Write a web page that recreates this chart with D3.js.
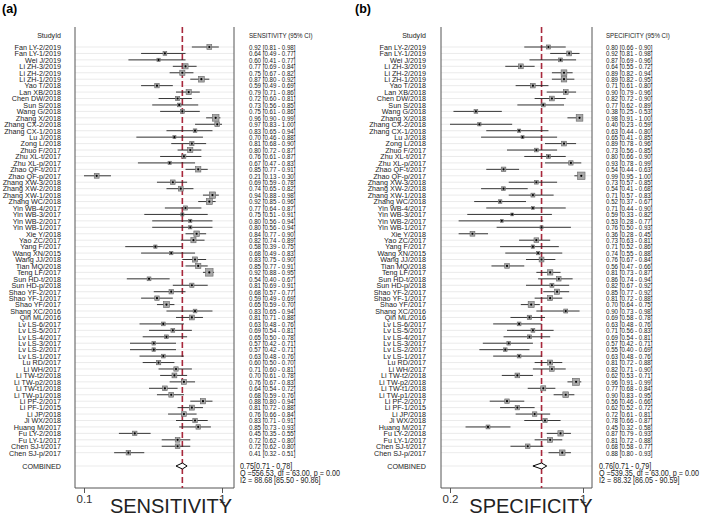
<!DOCTYPE html>
<html><head><meta charset="utf-8">
<script src="https://cdn.jsdelivr.net/npm/d3@7"></script>
<style>
body{margin:0;background:#fff;}
text{font-family:"Liberation Sans",Arial,sans-serif;fill:#222;}
</style></head>
<body><svg id="c" width="709" height="519"></svg>
<script>
const studies = ["Fan LY-2/2019","Fan LY-1/2019","Wei J/2019","Li ZH-3/2019","Li ZH-2/2019","Li ZH-1/2019","Yao T/2018","Lan XB/2018","Chen DW/2018","Sun S/2018","Wang G/2018","Zhang X/2018","Zhang CX-2/2018","Zhang CX-1/2018","Lu J/2018","Zong L/2018","Zhuo F/2017","Zhu XL-t/2017","Zhu XL-p/2017","Zhao QF-t/2017","Zhao QF-p/2017","Zhang XW-3/2018","Zhang XW-2/2018","Zhang XW-1/2018","Zhang WC/2018","Yin WB-4/2017","Yin WB-3/2017","Yin WB-2/2017","Yin WB-1/2017","Xie Y/2018","Yao ZC/2017","Yang F/2017","Wang XN/2015","Wang JJ/2018","Tian MQ/2018","Teng LF/2017","Sun HD-t/2018","Sun HD-p/2018","Shao YF-2/2017","Shao YF-1/2017","Shao YF/2017","Shang XC/2016","Qin ML/2016","Lv LS-6/2017","Lv LS-5/2017","Lv LS-4/2017","Lv LS-3/2017","Lv LS-2/2017","Lv LS-1/2017","Lu RD/2017","Li WH/2017","Li TW-t2/2018","Li TW-p2/2018","Li TW-t1/2018","Li TW-p1/2018","Li PF-2/2017","Li PF-1/2015","Li JP/2018","Ji WX/2018","Huang M/2017","Fu LY-2/2018","Fu LY-1/2017","Chen SJ-t/2017","Chen SJ-p/2017"];

const sensEst = [0.92,0.64,0.60,0.77,0.75,0.87,0.59,0.79,0.72,0.73,0.75,0.96,0.97,0.83,0.70,0.81,0.80,0.76,0.67,0.85,0.21,0.69,0.74,0.94,0.92,0.77,0.75,0.80,0.80,0.84,0.82,0.58,0.68,0.83,0.85,0.92,0.54,0.81,0.68,0.59,0.65,0.83,0.81,0.63,0.69,0.65,0.57,0.57,0.63,0.60,0.71,0.70,0.76,0.64,0.68,0.88,0.81,0.76,0.83,0.85,0.45,0.72,0.72,0.41];
const sensLo = [0.81,0.49,0.41,0.69,0.67,0.80,0.49,0.71,0.60,0.56,0.61,0.90,0.83,0.65,0.46,0.68,0.72,0.61,0.47,0.77,0.13,0.59,0.65,0.88,0.85,0.64,0.51,0.56,0.56,0.77,0.74,0.39,0.49,0.75,0.77,0.88,0.40,0.69,0.57,0.49,0.59,0.65,0.71,0.48,0.54,0.50,0.42,0.42,0.48,0.50,0.60,0.61,0.67,0.54,0.59,0.80,0.72,0.66,0.71,0.73,0.35,0.62,0.62,0.32];
const sensHi = [0.98,0.77,0.77,0.84,0.82,0.92,0.69,0.86,0.81,0.85,0.86,0.99,1.00,0.94,0.88,0.90,0.87,0.87,0.83,0.91,0.30,0.78,0.82,0.98,0.96,0.87,0.91,0.94,0.94,0.90,0.89,0.75,0.83,0.90,0.91,0.95,0.67,0.91,0.77,0.69,0.70,0.94,0.88,0.76,0.81,0.78,0.71,0.71,0.76,0.70,0.81,0.78,0.83,0.72,0.76,0.94,0.88,0.84,0.91,0.93,0.55,0.80,0.80,0.51];

const specEst = [0.80,0.92,0.87,0.64,0.89,0.89,0.71,0.90,0.82,0.77,0.38,0.98,0.40,0.63,0.65,0.89,0.73,0.80,0.93,0.54,0.99,0.73,0.54,0.71,0.52,0.71,0.59,0.53,0.76,0.36,0.73,0.71,0.74,0.76,0.56,0.81,0.86,0.82,0.85,0.81,0.70,0.90,0.69,0.63,0.71,0.69,0.57,0.55,0.63,0.81,0.82,0.62,0.96,0.77,0.90,0.56,0.62,0.72,0.78,0.45,0.87,0.81,0.68,0.88];
const specLo = [0.66,0.81,0.69,0.55,0.82,0.82,0.61,0.79,0.72,0.62,0.25,0.91,0.23,0.44,0.41,0.78,0.56,0.66,0.78,0.44,0.95,0.57,0.41,0.57,0.37,0.44,0.33,0.28,0.50,0.28,0.63,0.52,0.55,0.67,0.47,0.73,0.74,0.67,0.77,0.72,0.64,0.73,0.58,0.48,0.56,0.54,0.42,0.40,0.48,0.72,0.71,0.53,0.91,0.68,0.83,0.46,0.52,0.61,0.66,0.32,0.79,0.72,0.58,0.80];
const specHi = [0.90,0.98,0.96,0.72,0.94,0.95,0.80,0.96,0.90,0.89,0.53,1.00,0.59,0.80,0.85,0.96,0.85,0.90,0.99,0.63,1.00,0.85,0.68,0.83,0.67,0.90,0.82,0.77,0.93,0.45,0.81,0.86,0.88,0.84,0.66,0.87,0.94,0.92,0.92,0.88,0.75,0.98,0.78,0.76,0.83,0.81,0.71,0.69,0.76,0.88,0.90,0.71,0.99,0.84,0.95,0.66,0.72,0.81,0.87,0.58,0.93,0.88,0.77,0.93];

const sensPooled = {est:0.75, lo:0.71, hi:0.78, q:"Q =556.53, df = 63.00, p =  0.00", i2:"I2 = 88.68 [85.50 - 90.86]"};
const specPooled = {est:0.76, lo:0.71, hi:0.79, q:"Q =539.35, df = 63.00, p =  0.00", i2:"I2 = 88.32 [86.05 - 90.59]"};

const sensTicks = [0.13, 1];
const sensTickLabels = ["0.1", "1"];
const specTicks = [0.23, 1];
const specTickLabels = ["0.2", "1"];

const svg = d3.select("#c");
const f2 = d3.format(".2f");
const rowY = d3.scalePoint().domain(studies).range([47, 452.7]);
const combinedY = 466;
const plotTop = 27, plotBottom = 488;
const sizeScale = d3.scaleSqrt().domain([2, 14]).range([2.8, 7.5]).clamp(true);

function panel(cfg) {
  const g = svg.append("g");
  const x = d3.scaleLinear().domain([cfg.ticks[0], 1]).range([cfg.plotL + 9, cfg.plotR - cfg.padR]);
  g.append("text").attr("x", cfg.letterX).attr("y", 13).attr("font-size", 12.5).attr("font-weight", "bold").style("fill","#000").text(cfg.letter);
  g.append("g").attr("transform", `translate(${cfg.nameX},35) scale(0.88,1)`)
    .append("text").attr("text-anchor","end").attr("dy","0.35em").attr("font-size",8).text("StudyId");
  g.append("g").attr("transform", `translate(${cfg.valX},35) scale(0.77,1)`)
    .append("text").attr("dy","0.35em").attr("font-size",8).text(cfg.header);
  g.selectAll("line.grid").data(studies.concat(["__c"])).join("line")
    .attr("x1", cfg.plotL).attr("x2", cfg.plotR)
    .attr("y1", d => d === "__c" ? combinedY : rowY(d))
    .attr("y2", d => d === "__c" ? combinedY : rowY(d))
    .attr("stroke", "#e6e6e6").attr("stroke-width", 0.8);
  g.append("line").attr("x1", cfg.plotL).attr("x2", cfg.plotL).attr("y1", plotTop).attr("y2", plotBottom).attr("stroke", "#555").attr("stroke-width", 1);
  g.append("line").attr("x1", cfg.plotR).attr("x2", cfg.plotR).attr("y1", plotTop).attr("y2", plotBottom).attr("stroke", "#555").attr("stroke-width", 1);
  g.append("line").attr("x1", cfg.plotL).attr("x2", cfg.plotR).attr("y1", plotBottom).attr("y2", plotBottom).attr("stroke", "#555").attr("stroke-width", 1);
  const ax = g.append("g").attr("transform", `translate(0,${plotBottom})`)
    .call(d3.axisBottom(x).tickValues(cfg.ticks).tickFormat((d, i) => cfg.tickLabels[i]).tickSize(5).tickPadding(2));
  ax.select(".domain").remove();
  ax.selectAll("line").attr("stroke", "#555");
  ax.selectAll("text").attr("font-size", 11.5).style("font-family", '"Liberation Sans",Arial,sans-serif').style("fill","#333");
  g.append("text").attr("x", cfg.titleX).attr("y", 513).attr("text-anchor","middle").attr("font-size", 20).style("fill","#222").text(cfg.title);
  g.append("line").attr("x1", x(cfg.pooled.est)).attr("x2", x(cfg.pooled.est)).attr("y1", plotTop).attr("y2", plotBottom)
    .attr("stroke", "#a8283c").attr("stroke-width", 1.6).attr("stroke-dasharray", "6,3");
  const data = studies.map((s, i) => ({s, est: cfg.est[i], lo: cfg.lo[i], hi: cfg.hi[i]}));
  g.selectAll("g.nm").data(studies).join("g").attr("transform", d => `translate(${cfg.nameX},${rowY(d)}) scale(0.9,1)`)
    .append("text").attr("text-anchor","end").attr("dy","0.35em").attr("font-size",8).text(d => d);
  g.append("g").attr("transform", `translate(${cfg.nameX},${combinedY}) scale(0.9,1)`)
    .append("text").attr("text-anchor","end").attr("dy","0.35em").attr("font-size",8).text("COMBINED");
  g.selectAll("line.ci").data(data).join("line")
    .attr("x1", d => x(d.lo)).attr("x2", d => x(d.hi)).attr("y1", d => rowY(d.s)).attr("y2", d => rowY(d.s))
    .attr("stroke", "#222").attr("stroke-width", 0.9);
  g.selectAll("rect.sq").data(data).join("rect")
    .attr("x", d => x(d.est) - sizeScale(1/(d.hi - d.lo))/2)
    .attr("y", d => rowY(d.s) - sizeScale(1/(d.hi - d.lo))/2)
    .attr("width", d => sizeScale(1/(d.hi - d.lo)))
    .attr("height", d => sizeScale(1/(d.hi - d.lo)))
    .attr("fill", "#a8a8a8").attr("stroke", "#666").attr("stroke-width", 0.6);
  g.selectAll("circle.pt").data(data).join("circle")
    .attr("cx", d => x(d.est)).attr("cy", d => rowY(d.s)).attr("r", 1.1).attr("fill", "#000");
  g.selectAll("g.val").data(data).join("g").attr("transform", d => `translate(${cfg.valX},${rowY(d.s)}) scale(0.77,1)`)
    .append("text").attr("dy","0.35em").attr("font-size",8)
    .text(d => `${f2(d.est)} [${f2(d.lo)} - ${f2(d.hi)}]`);
  const p = cfg.pooled;
  g.append("path").attr("d", `M${x(p.lo)},${combinedY} L${x(p.est)},${combinedY-3} L${x(p.hi)},${combinedY} L${x(p.est)},${combinedY+3} Z`)
    .attr("fill", "#fff").attr("stroke", "#000").attr("stroke-width", 1);
  const cl = [` ${f2(p.est)}[${f2(p.lo)} - ${f2(p.hi)}]`, p.q, p.i2];
  g.selectAll("g.cmb").data(cl).join("g").attr("transform", (d, i) => `translate(${cfg.combX},${combinedY + i*7})`)
    .append("g").attr("transform","scale(0.8,1)")
    .append("text").attr("dy","0.35em").attr("font-size",9).text(d => d);
}

panel({letter:"(a)", letterX:2, nameX:61, plotL:75, plotR:234, padR:12, valX:249, combX:240, header:"SENSITIVITY (95% CI)",
  title:"SENSITIVITY", titleX:171, ticks:sensTicks, tickLabels:sensTickLabels, est:sensEst, lo:sensLo, hi:sensHi, pooled:sensPooled});
panel({letter:"(b)", letterX:355, nameX:426, plotL:441, plotR:592, padR:9, valX:606, combX:599, header:"SPECIFICITY (95% CI)",
  title:"SPECIFICITY", titleX:531, ticks:specTicks, tickLabels:specTickLabels, est:specEst, lo:specLo, hi:specHi, pooled:specPooled});
</script></body></html>
